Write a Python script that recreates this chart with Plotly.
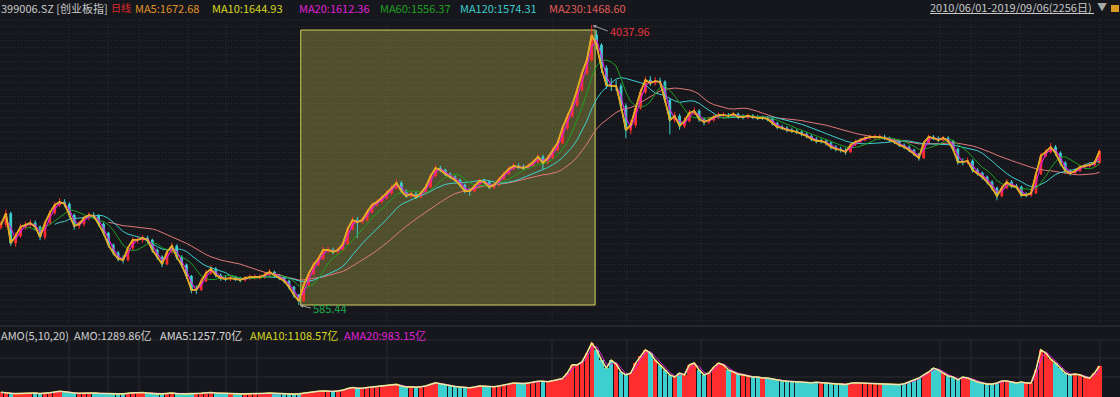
import math
import pandas as pd
import plotly.graph_objects as go

# ---------------- data (one sample every 10 trading days) -------------
first_open = 1000.0
close = [1020,1100,898,943,1003,1017,1031,1003,936,1031,
         1105,1167,1191,1175,1089,1010,1024,1067,1089,1082,
         1024,962,886,839,805,799,868,917,917,930,
         917,856,816,777,845,880,816,772,715,650,
         650,691,730,751,720,705,701,705,701,696,
         705,710,710,710,720,735,720,705,691,663,
         628,602,672,725,772,805,856,856,845,856,
         892,989,1052,1038,1052,1112,1167,1191,1225,1267,
         1312,1359,1285,1242,1259,1233,1267,1321,1425,1506,
         1486,1445,1416,1387,1340,1285,1285,1331,1378,1368,
         1321,1340,1396,1445,1496,1528,1517,1506,1528,1570,
         1626,1560,1615,1705,1790,1985,2156,2326,2579,2899,
         3172,3769,3517,3001,2670,2652,2652,2310,1958,2026,
         2278,2544,2763,2707,2744,2725,2407,2097,2156,2012,
         2083,2201,2232,2112,2068,2097,2141,2171,2171,2156,
         2186,2141,2141,2156,2141,2127,2127,2112,2054,1999,
         1985,1958,1945,1931,1904,1878,1840,1815,1815,1790,
         1741,1717,1705,1682,1765,1802,1827,1852,1865,1865,
         1865,1852,1827,1802,1765,1741,1705,1659,1615,1790,
         1865,1852,1827,1852,1815,1717,1570,1570,1581,1486,
         1455,1416,1368,1312,1242,1312,1368,1331,1321,1250,
         1250,1267,1445,1637,1682,1741,1670,1560,1476,1455,
         1476,1517,1528,1538,1560,1690]

high = [1045,1130,1115,965,1025,1040,1055,1050,1015,1050,
        1125,1190,1225,1215,1190,1100,1045,1085,1110,1110,
        1095,1035,970,895,850,825,880,935,940,950,
        945,925,865,825,860,900,890,825,780,720,
        670,705,745,770,760,728,718,718,716,712,
        716,722,724,724,735,750,742,726,712,698,
        668,632,685,740,790,825,875,878,870,872,
        910,1005,1075,1075,1075,1135,1190,1215,1250,1295,
        1340,1395,1380,1300,1285,1280,1290,1345,1450,1540,
        1530,1500,1460,1430,1400,1350,1310,1350,1400,1400,
        1385,1360,1420,1470,1525,1560,1555,1545,1560,1600,
        1660,1650,1650,1740,1830,2030,2200,2380,2640,2960,
        3250,4037.96,3900,3560,3060,2800,2760,2700,2350,2100,
        2330,2600,2830,2840,2820,2810,2760,2440,2220,2190,
        2140,2250,2290,2260,2140,2140,2180,2210,2210,2200,
        2220,2210,2180,2190,2185,2170,2160,2150,2130,2070,
        2030,2010,1990,1975,1955,1930,1900,1865,1850,1840,
        1810,1765,1745,1730,1790,1830,1855,1880,1895,1900,
        1900,1895,1870,1845,1820,1785,1760,1720,1670,1815,
        1895,1890,1875,1880,1875,1830,1730,1610,1620,1600,
        1505,1470,1430,1385,1325,1335,1395,1385,1350,1335,
        1275,1290,1470,1670,1720,1790,1765,1690,1580,1495,
        1500,1540,1555,1565,1590,1715]

low = [985,1000,880,875,930,985,995,985,915,920,
       1015,1090,1150,1150,1065,985,990,1005,1050,1060,
       1005,945,870,825,790,780,790,855,895,900,
       895,840,800,760,770,835,800,760,700,635,
       632,645,685,720,708,692,690,690,690,684,
       688,695,698,698,702,712,708,695,680,652,
       615,585.44,598,665,718,765,798,838,830,832,
       848,885,980,930,1025,1040,1100,1155,1180,1210,
       1250,1300,1265,1225,1225,1215,1220,1255,1310,1410,
       1465,1425,1395,1365,1320,1265,1245,1275,1320,1345,
       1300,1300,1330,1385,1435,1485,1495,1485,1495,1515,
       1555,1490,1545,1600,1690,1775,1960,2130,2300,2550,
       2860,3140,3400,2900,2600,2560,2560,2250,1850,1900,
       1990,2250,2510,2650,2660,2680,2360,1900,2060,1960,
       1980,2060,2170,2070,2020,2040,2070,2110,2130,2120,
       2130,2110,2105,2110,2110,2095,2095,2080,2020,1965,
       1955,1925,1915,1900,1875,1850,1810,1785,1780,1760,
       1710,1690,1675,1650,1670,1750,1785,1810,1830,1835,
       1835,1825,1800,1775,1740,1715,1680,1635,1585,1605,
       1775,1825,1800,1810,1790,1690,1540,1535,1545,1460,
       1430,1390,1345,1290,1205,1230,1300,1310,1300,1230,
       1230,1235,1260,1435,1620,1665,1640,1530,1450,1430,
       1440,1465,1500,1510,1520,1550]

# daily turnover, 亿
amount = [180,150,140,130,140,150,140,150,130,140,
          160,190,220,200,170,150,140,150,160,150,
          140,130,140,130,120,120,150,160,160,170,
          150,130,120,120,140,150,130,120,120,130,
          130,140,160,170,150,140,130,130,120,120,
          120,120,120,130,140,150,140,130,120,110,
          110,120,150,180,200,220,230,220,210,230,
          260,320,360,330,330,360,380,400,420,440,
          460,480,420,380,390,370,390,420,480,540,
          500,460,420,400,380,360,350,380,420,410,
          390,390,420,460,500,530,520,510,530,560,
          600,600,580,620,650,700,910,1220,1220,1330,
          1670,2050,1790,1400,1100,1400,1250,950,840,910,
          1290,1560,1790,1670,1400,1220,1030,840,760,910,
          840,1220,1290,1030,840,910,1140,1290,1220,1030,
          950,870,840,800,760,760,720,720,680,650,
          620,600,590,570,560,550,540,560,540,520,
          510,500,490,470,520,540,530,520,510,500,
          500,490,480,480,470,500,570,650,720,840,
          950,1100,1030,910,800,760,650,760,720,650,
          570,530,490,490,530,610,610,570,530,570,
          530,530,1030,1790,1670,1440,1290,1100,910,840,
          870,840,760,720,910,1180]

days = list(range(0, 2256, 10))          # trading-day index of each sample
peak_day, peak_price = 1210, 4037.96
trough_day, trough_price = 610, 585.44
sel_start_day, sel_end_day = 614, 1217    # highlighted range

header_text = "399006.SZ [创业板指]"
period_text = "日线"
ma_labels = ["MA5:1672.68", "MA10:1644.93", "MA20:1612.36", "MA60:1556.37", "MA120:1574.31", "MA230:1468.60"]
range_text = "2010/06/01-2019/09/06(2256日)"
vol_labels = ["AMO(5,10,20)", "AMO:1289.86亿", "AMA5:1257.70亿", "AMA10:1108.57亿", "AMA20:983.15亿"]

# ---------------- derived series ----------------
open_ = [first_open] + close[:-1]
cs = pd.Series(close, dtype=float)
vs = pd.Series(amount, dtype=float)
def roll(s, n_days):
    return s.rolling(max(1, round(n_days / 10))).mean()

UP, DOWN = "#ff2e2e", "#3ccfcf"
up_flags = [c >= o for o, c in zip(open_, close)]

BG = "#15171c"
W, H = 1120, 397
FONT = "Noto Sans CJK SC, Noto Sans, sans-serif"

def py(pix):  # pixel row -> paper y
    return 1 - pix / H

fig = go.Figure()

fig.add_trace(go.Candlestick(
    x=days, open=open_, high=high, low=low, close=close,
    increasing=dict(line=dict(color=UP, width=1), fillcolor=UP),
    decreasing=dict(line=dict(color=DOWN, width=1), fillcolor=DOWN),
    whiskerwidth=0, showlegend=False, hoverinfo="skip", xaxis="x", yaxis="y"))

ma_specs = [(230, "#e07878", 1), (120, "#3fcfcf", 1), (60, "#1fa01f", 1),
            (20, "#e020e0", 1.1), (10, "#e8e020", 1.7), (5, "#e89a2a", 1.2)]
for n, col, wd in ma_specs:
    fig.add_trace(go.Scatter(x=days, y=roll(cs, n), mode="lines",
                             line=dict(color=col, width=wd),
                             showlegend=False, hoverinfo="skip", xaxis="x", yaxis="y"))

fig.add_trace(go.Bar(x=days, y=amount, width=9,
                     marker=dict(color=[UP if u else DOWN for u in up_flags], line=dict(width=0)),
                     showlegend=False, hoverinfo="skip", xaxis="x2", yaxis="y2"))
for n, col, wd in [(20, "#e020e0", 1), (10, "#e8e020", 1.6), (5, "#e6e6e6", 1)]:
    fig.add_trace(go.Scatter(x=days, y=roll(vs, n), mode="lines",
                             line=dict(color=col, width=wd),
                             showlegend=False, hoverinfo="skip", xaxis="x2", yaxis="y2"))

# ---------------- shapes: grid, box ----------------
shapes = []
shapes.append(dict(type="rect", xref="x", yref="y", x0=sel_start_day, x1=sel_end_day,
                   y0=trough_price, y1=3900, layer="below",
                   fillcolor="rgba(235,228,90,0.28)", line=dict(color="#d8d060", width=1)))
GRID = "#2b2e36"
pix = 19.7
while pix < 322:
    shapes.append(dict(type="line", xref="paper", yref="paper", x0=0, x1=1, y0=py(pix), y1=py(pix),
                       layer="below", line=dict(color=GRID, width=1, dash="1px,2px")))
    pix += 7.0
vgrid = [69, 108, 139, 188, 226, 257, 387, 552, 627, 701, 940, 971, 1020, 1100]
for xp in vgrid:
    shapes.append(dict(type="line", xref="paper", yref="paper", x0=xp / W, x1=xp / W,
                       y0=py(322), y1=py(18), layer="below",
                       line=dict(color=GRID, width=1, dash="1px,2px")))
    shapes.append(dict(type="line", xref="paper", yref="paper", x0=xp / W, x1=xp / W,
                       y0=0, y1=py(340), layer="below", line=dict(color="#2a2d33", width=1)))
for yp in [340, 358, 377]:
    shapes.append(dict(type="line", xref="paper", yref="paper", x0=0, x1=1, y0=py(yp), y1=py(yp),
                       layer="below", line=dict(color="#2a2d33", width=1)))
shapes.append(dict(type="line", xref="paper", yref="paper", x0=0, x1=1, y0=py(326), y1=py(326),
                   layer="below", line=dict(color="#33363d", width=1)))
shapes.append(dict(type="line", xref="paper", yref="paper", x0=930 / W, x1=1094 / W,
                   y0=py(13.5), y1=py(13.5), line=dict(color="#c8c8c8", width=1)))
shapes.append(dict(type="rect", xref="paper", yref="paper", x0=1111 / W, x1=1119 / W,
                   y0=py(12), y1=py(5), fillcolor="#d89a20", line=dict(width=0)))

# ---------------- annotations ----------------
ann = []
def label(xp, yp, text, color, size=11):
    ann.append(dict(xref="paper", yref="paper", x=xp / W, y=py(yp), text=text, showarrow=False,
                    xanchor="left", yanchor="middle", font=dict(family=FONT, size=size, color=color),
                    borderpad=0))

label(0, 8, header_text, "#c8c8c8")
label(110, 8, period_text, "#e02828", 10)
for xp, t, c in zip([134, 211, 298, 379, 459, 548], ma_labels,
                    ["#e0922c", "#d8d820", "#e020d8", "#1fa01f", "#3ccaca", "#e05a5a"]):
    label(xp, 8, t, c)
label(929, 7, range_text, "#c8c8c8")
label(1096, 7, "▼", "#a8a8a8", 10)
for xp, t, c in zip([0, 73, 159, 249, 343], vol_labels,
                    ["#d0d0d0", "#d0d0d0", "#d8d8d8", "#d8d820", "#e020d8"]):
    label(xp, 335, t, c)

ann.append(dict(xref="x", yref="y", x=peak_day, y=math.log10(peak_price), text=f"{peak_price:.2f}",
                showarrow=True, arrowhead=2, arrowsize=0.7, arrowwidth=1, arrowcolor="#a0a0a0",
                ax=16, ay=6, xanchor="left", yanchor="middle", standoff=1,
                font=dict(family=FONT, size=11, color="#e8323a")))
ann.append(dict(xref="x", yref="y", x=trough_day, y=math.log10(trough_price), text=f"{trough_price:.2f}",
                showarrow=True, arrowhead=2, arrowsize=0.7, arrowwidth=1, arrowcolor="#a0a0a0",
                ax=12, ay=3, xanchor="left", yanchor="middle", standoff=1,
                font=dict(family=FONT, size=11, color="#22a84a")))

px_per_day = 0.4882
x_lo = -1 / px_per_day
x_hi = (W - 1) / px_per_day

fig.update_layout(
    width=W, height=H, margin=dict(l=0, r=0, t=0, b=0),
    paper_bgcolor=BG, plot_bgcolor="rgba(0,0,0,0)",
    showlegend=False, hovermode=False,
    xaxis=dict(domain=[0, 1], range=[x_lo, x_hi], visible=False, anchor="y",
               rangeslider=dict(visible=False)),
    yaxis=dict(type="log", domain=[py(322), py(18)],
               range=[math.log10(peak_price) - 297 * 0.0029949, math.log10(peak_price) + 7 * 0.0029949],
               visible=False, anchor="x"),
    xaxis2=dict(domain=[0, 1], range=[x_lo, x_hi], visible=False, anchor="y2", matches="x"),
    yaxis2=dict(domain=[0, py(326)], range=[0, 71 * 38], visible=False, anchor="x2"),
    shapes=shapes, annotations=ann,
    bargap=0, boxgap=0.5,
)

fig.write_html("out.html", config={"displayModeBar": False},
               post_script="document.body.style.margin='0';document.body.style.overflow='hidden';")
